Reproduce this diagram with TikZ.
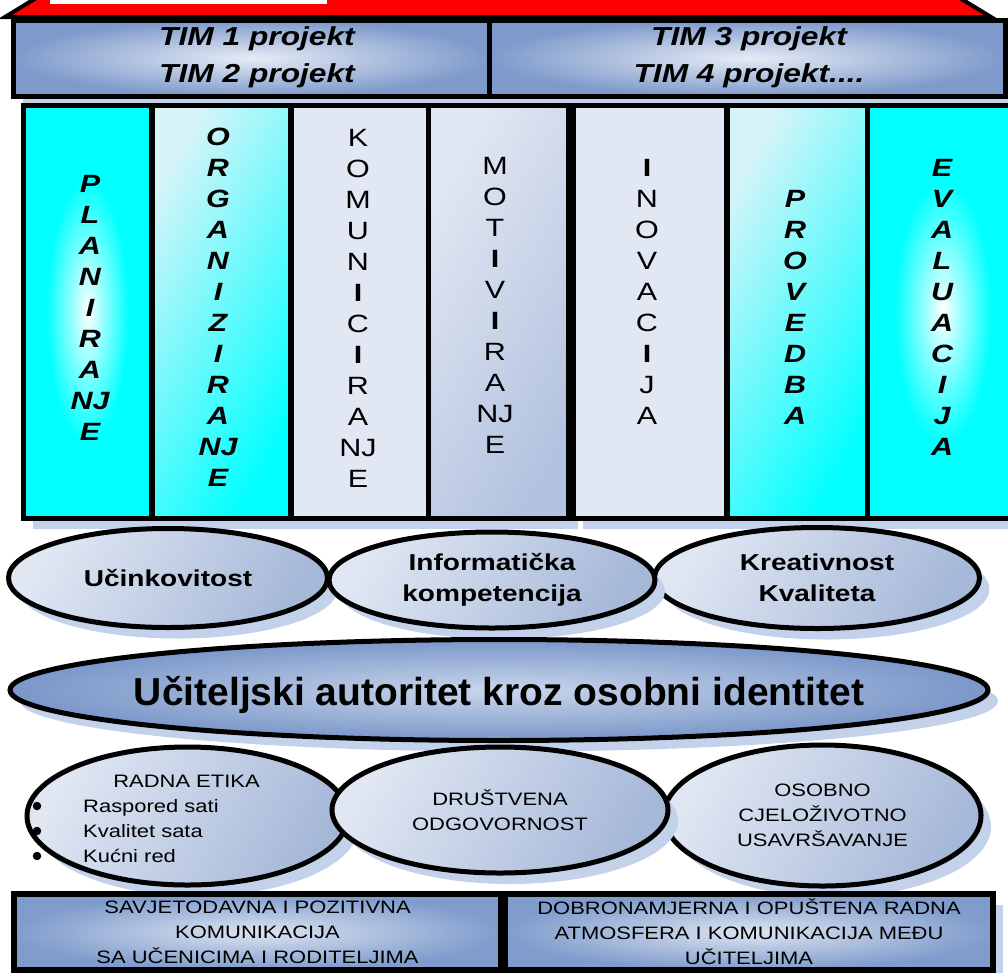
\documentclass[tikz,border=0pt]{standalone}
\usepackage{fontspec}
\setmainfont{Liberation Sans}
\newfontfamily\widesans{Liberation Sans}[FakeStretch=1.22]
\usepackage[dvipsnames]{xcolor}
\usepackage{tikz}
\usetikzlibrary{
	shapes.geometric,
	shadows,
	positioning
}

\definecolor{roofred}{HTML}{FF0000}
\definecolor{timlight}{HTML}{E6EBF5}
\definecolor{timdark}{HTML}{7E9ACB}
\definecolor{palegrey}{HTML}{E2E8F3}
\definecolor{motblue}{HTML}{B3C2DF}
\definecolor{orglight}{HTML}{D6F4F8}
\definecolor{ovallight}{HTML}{E0E7F3}
\definecolor{ovaldark}{HTML}{A6B8D8}
\definecolor{mainlight}{HTML}{CAD6EB}
\definecolor{maindark}{HTML}{7A97C9}
\definecolor{boxlight}{HTML}{DDE4F1}
\definecolor{boxdark}{HTML}{7F9CCC}
\definecolor{shadowblue}{HTML}{C3D1EB}

\pgfdeclareradialshading{cyanspot}{\pgfpoint{0bp}{0bp}}{color(0bp)=(white); color(6bp)=(cyan!40!white); color(16bp)=(cyan); color(50bp)=(cyan)}

\tikzset{
	softshadow/.style={drop shadow={shadow xshift=10pt, shadow yshift=-11pt, fill=shadowblue, opacity=1}},
	timbox/.style={rectangle, draw=black, line width=5pt, inner color=timlight, outer color=timdark, minimum height=76pt, anchor=north west, softshadow},
	timtext/.style={font=\widesans\bfseries\itshape\fontsize{26}{37}\selectfont, align=center, inner sep=0pt},
	colbox/.style={rectangle, draw=black, line width=5.5pt, minimum height=413pt, anchor=north west, softshadow},
	stackbi/.style={font=\widesans\bfseries\itshape\fontsize{25}{31}\selectfont, align=center, inner sep=0pt},
	stackrg/.style={font=\widesans\fontsize{25}{31}\selectfont, align=center, inner sep=0pt},
	oval/.style={ellipse, draw=black, line width=5pt, left color=ovallight, right color=ovaldark, shading angle=60, softshadow, align=center, inner sep=0pt},
	ovalbold/.style={font=\widesans\bfseries\fontsize{23}{31}\selectfont},
	ovalplain/.style={font=\widesans\fontsize{18}{25}\selectfont},
	itemtext/.style={font=\widesans\fontsize{18}{25}\selectfont, inner sep=0pt},
	dot/.style={circle, fill=black, minimum size=8.5pt, inner sep=0pt},
	basebox/.style={rectangle, draw=black, line width=6pt, inner color=boxlight, outer color=boxdark, minimum height=76pt, anchor=north west, align=center, inner sep=0pt, softshadow, font=\widesans\fontsize{18}{25}\selectfont}
}

\begin{document}
\begin{tikzpicture}[x=1pt, y=-1pt]
	\useasboundingbox (0,0) rectangle (1008,972);

	% roof
	\draw[fill=roofred, line width=4pt] (5,17) -- (46,-8) -- (950,-8) -- (991,17) -- cycle;
	\fill[white] (50,-5) rectangle (327,4);

	% team projects
	\node[timbox, minimum width=476.5pt] (timL) at (10.5,17.5) {};
	\node[timbox, minimum width=515.5pt] (timR) at (487,17.5) {};
	\node[timtext] (timLtxt) at (257,57) {TIM 1 projekt\\TIM 2 projekt};
	\node[timtext] (timRtxt) at (749,57) {TIM 3 projekt\\TIM 4 projekt....};

	% pillars
	\node[colbox, minimum width=128.5pt, shade, shading=cyanspot] (cPlan) at (20.5,102.5) {};
	\node[colbox, minimum width=139pt, left color=orglight, right color=cyan, shading angle=60] (cOrg) at (149,102.5) {};
	\node[colbox, minimum width=137.5pt, fill=palegrey] (cKom) at (288,102.5) {};
	\node[colbox, minimum width=140pt, left color=palegrey, right color=motblue, shading angle=60] (cMot) at (425.5,102.5) {};
	\node[colbox, minimum width=153.5pt, fill=palegrey] (cInov) at (570.5,102.5) {};
	\node[colbox, minimum width=140.5pt, left color=orglight, right color=cyan, shading angle=60] (cProv) at (724,102.5) {};
	\node[colbox, minimum width=151.5pt, shade, shading=cyanspot] (cEval) at (864.5,102.5) {};

	\node[stackbi] (tPlan) at (90,308) {P\\L\\A\\N\\I\\R\\A\\NJ\\E};
	\node[stackbi] (tOrg) at (218,307) {O\\R\\G\\A\\N\\I\\Z\\I\\R\\A\\NJ\\E};
	\node[stackrg] (tKom) at (358,308) {K\\O\\M\\U\\N\\\textbf{I}\\C\\\textbf{I}\\R\\A\\NJ\\E};
	\node[stackrg] (tMot) at (495,305.5) {M\\O\\T\\\textbf{I}\\V\\\textbf{I}\\R\\A\\NJ\\E};
	\node[stackrg] (tInov) at (647,291.5) {\textbf{I}\\N\\O\\V\\A\\C\\\textbf{I}\\J\\A};
	\node[stackbi] (tProv) at (795,307.5) {P\\R\\O\\V\\E\\D\\B\\A};
	\node[stackbi] (tEval) at (942,307) {E\\V\\A\\L\\U\\A\\C\\I\\J\\A};

	% competences
	\node[oval, ovalbold, minimum width=319pt, minimum height=99pt] (effect) at (168,578) {Učinkovitost};
	\node[oval, ovalbold, minimum width=325pt, minimum height=101pt] (creat) at (817,578) {Kreativnost\\Kvaliteta};
	\node[oval, ovalbold, minimum width=326pt, minimum height=96pt] (info) at (492,580) {Informatička\\kompetencija};

	% authority
	\node[ellipse, draw=black, line width=5pt, inner color=mainlight, outer color=maindark, softshadow, minimum width=978pt, minimum height=101pt, inner sep=0pt] (auth) at (499,690) {};
	\node[font=\bfseries\fontsize{39}{44}\selectfont, inner sep=0pt] (authTxt) at (499,695) {Učiteljski autoritet kroz osobni identitet};

	% values
	\node[oval, minimum width=321pt, minimum height=138pt] (ethic) at (187.5,816) {};
	\node[oval, ovalplain, minimum width=317pt, minimum height=141pt] (lifelong) at (822.5,815.5) {OSOBNO\\CJELOŽIVOTNO\\USAVRŠAVANJE};
	\node[oval, ovalplain, minimum width=336pt, minimum height=126pt] (social) at (500,810) {DRUŠTVENA\\ODGOVORNOST};

	\node[itemtext, anchor=base] (ethicHead) at (186.5,787) {RADNA ETIKA};
	\foreach \txt [count=\i] in {Raspored sati, Kvalitet sata, Kućni red} {
		\node[itemtext, anchor=base west] (item\i) at (83,{787+25*\i}) {\txt};
		\node[dot] (dot\i) at (37,{781+25*\i}) {};
	}

	% communication
	\node[basebox, minimum width=487pt] (talkPupils) at (11,891) {SAVJETODAVNA I POZITIVNA\\KOMUNIKACIJA\\SA UČENICIMA I RODITELJIMA};
	\node[basebox, minimum width=488pt] (talkStaff) at (502,891) {DOBRONAMJERNA I OPUŠTENA RADNA\\ATMOSFERA I KOMUNIKACIJA MEĐU\\UČITELJIMA};
\end{tikzpicture}
\end{document}
